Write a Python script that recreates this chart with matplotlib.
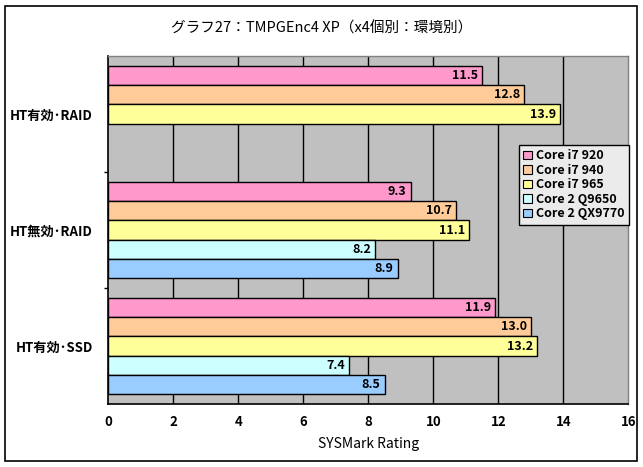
import matplotlib
matplotlib.use("Agg")
import matplotlib.pyplot as plt
from matplotlib.patches import Rectangle, Patch
import numpy as np

plt.rcParams['font.family'] = ['Noto Sans CJK JP', 'DejaVu Sans']

title = "グラフ27：TMPGEnc4 XP（x4個別：環境別）"
categories = ["HT有効･RAID", "HT無効･RAID", "HT有効･SSD"]
series_names = ["Core i7 920", "Core i7 940", "Core i7 965", "Core 2 Q9650", "Core 2 QX9770"]
values = {
    "Core i7 920":   [11.5, 9.3, 11.9],
    "Core i7 940":   [12.8, 10.7, 13.0],
    "Core i7 965":   [13.9, 11.1, 13.2],
    "Core 2 Q9650":  [np.nan, 8.2, 7.4],
    "Core 2 QX9770": [np.nan, 8.9, 8.5],
}
colors = ["#FF99CC", "#FFCC99", "#FFFF99", "#CCFFFF", "#99CCFF"]
xticks = [0, 2, 4, 6, 8, 10, 12, 14, 16]
xlabel = "SYSMark Rating"

fig = plt.figure(figsize=(6.43, 4.67), dpi=100)
fig.patch.set_facecolor("white")
ax = fig.add_axes([108.3/643, 63/467, 520/643, 348/467])
ax.set_facecolor("#C0C0C0")

w = 1/6
for j, name in enumerate(series_names):
    for i, v in enumerate(values[name]):
        if np.isnan(v):
            continue
        y = i + (j - 2) * w
        ax.barh(y, v, height=w, color=colors[j], edgecolor="black", linewidth=1.0, zorder=3)
        ax.text(v - 0.12, y, f"{v:.1f}", ha="right", va="center", fontsize=9,
                fontweight="bold", zorder=4)

ax.set_xlim(0, 16)
ax.set_ylim(2.5, -0.5)
ax.set_xticks(xticks)
ax.set_xticklabels([str(t) for t in xticks], fontsize=9.5, fontweight="bold")
ax.tick_params(axis="x", length=0, pad=8)
for t in xticks[1:-1]:
    ax.axvline(t, color="black", linewidth=1.0, zorder=1)

ax.set_yticks(range(len(categories)))
ax.set_yticklabels(categories, fontsize=9.5, fontweight="bold")
ax.tick_params(axis="y", which="major", length=0, pad=11)
ax.set_yticks([0.5, 1.5], minor=True)
ax.tick_params(axis="y", which="minor", length=3, width=1, direction="out")

ax.set_xlabel(xlabel, fontsize=10, labelpad=6)

for s in ["left", "bottom"]:
    ax.spines[s].set_color("black")
    ax.spines[s].set_linewidth(1.2)
for s in ["top", "right"]:
    ax.spines[s].set_color("#808080")
    ax.spines[s].set_linewidth(1.0)

fig.text(0.5, 1 - 28/467, title, ha="center", va="center", fontsize=10.5)

handles = [Patch(facecolor=c, edgecolor="black", linewidth=0.8) for c in colors]
leg = fig.legend(handles, series_names, loc="upper left", bbox_to_anchor=(519/643, 1 - 145/467),
                 fancybox=False, frameon=True, fontsize=9, handlelength=0.7, handleheight=0.7,
                 handletextpad=0.3, labelspacing=0.12, borderpad=0.35, borderaxespad=0)
leg.get_frame().set_facecolor("#EBEBEB")
leg.get_frame().set_edgecolor("black")
leg.get_frame().set_linewidth(1.0)
leg.get_frame().set_alpha(1)
for t in leg.get_texts():
    t.set_fontweight("bold")

fig.patches.append(Rectangle((5/643, 6/467), 632/643, 455/467, transform=fig.transFigure,
                             fill=False, edgecolor="black", linewidth=1.2))

fig.savefig("out.png", dpi=100)
